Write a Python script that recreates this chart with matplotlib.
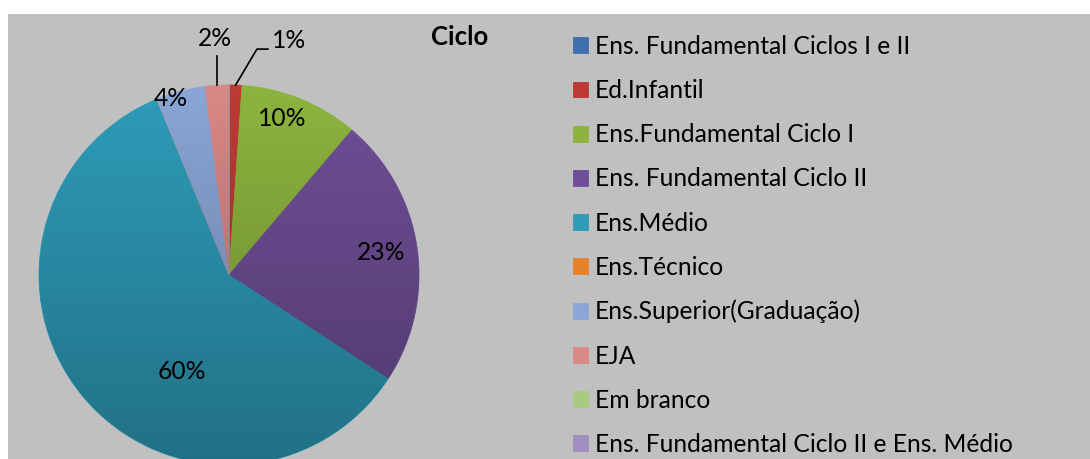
import numpy as np
import matplotlib.pyplot as plt
from matplotlib.patches import Circle, Rectangle

plt.rcParams['font.family'] = ['Lato', 'DejaVu Sans']

# data (percent of answers per cycle)
categories = ['Ens. Fundamental Ciclos I e II', 'Ed.Infantil', 'Ens.Fundamental Ciclo I',
              'Ens. Fundamental Ciclo II', 'Ens.Médio', 'Ens.Técnico',
              'Ens.Superior(Graduação)', 'EJA', 'Em branco',
              'Ens. Fundamental Ciclo II e Ens. Médio']
values = [0, 1.1, 10.1, 23.0, 59.6, 0, 4.2, 2.0, 0, 0]
colors = ['#3f6fb0', '#be3a36', '#8db43e', '#6f4f97', '#2e9cb9', '#e8822a',
          '#8aa6d6', '#d98886', '#a8c980', '#a08fc0']
title = 'Ciclo'

W, H = 1090, 459
fig = plt.figure(figsize=(W / 100, H / 100), dpi=100)
fig.patch.set_facecolor('white')
fig.patches.append(Rectangle((8 / W, 0), 1 - 8 / W, 445 / H, transform=fig.transFigure,
                             facecolor='#c0c0c0', edgecolor='none', zorder=-10))

# pie axes placed in pixels: centre (229, 275), radius 190
cx, cy, r = 229, 275, 190
ax = fig.add_axes([(cx - r) / W, (H - cy - r) / H, 2 * r / W, 2 * r / H])

wedges, _ = ax.pie(values, colors=colors, startangle=90, counterclock=False,
                   radius=1, wedgeprops=dict(linewidth=0.6, edgecolor='none'))
for w, c in zip(wedges, colors):
    w.set_edgecolor(c)

# darkening gradient toward the bottom, clipped to the disc
grad = np.linspace(0, 1, 256).reshape(-1, 1)
shade = np.zeros((256, 1, 4))
shade[..., 3] = 0.28 * grad
im = ax.imshow(shade, extent=(-1, 1, -1, 1), origin='upper', aspect='auto', zorder=3)
im.set_clip_path(Circle((0, 0), 1, transform=ax.transData))
ax.set_xlim(-1, 1)
ax.set_ylim(-1, 1)
ax.axis('off')

# percentage labels
total = sum(values)
cum = np.cumsum([0] + values)
# (radial distance, angular shift in degrees) per labelled slice
label_place = {2: (0.872, -3.5), 3: (0.808, 0), 4: (0.567, -24.6), 6: (0.975, -3.4)}
fs = 17.7
for i, v in enumerate(values):
    if i not in label_place:
        continue
    d, shift = label_place[i]
    mid = 360 * (cum[i] + v / 2) / total + shift
    x, y = d * np.sin(np.radians(mid)), d * np.cos(np.radians(mid))
    ax.text(x, y, f'{v / total * 100:.0f}%', ha='center', va='center', fontsize=fs,
            color='black', zorder=5)

# small slices labelled outside with leader lines
def edge_point(i):
    mid = 360 * (cum[i] + values[i] / 2) / total
    return np.sin(np.radians(mid)), np.cos(np.radians(mid))

ex, ey = edge_point(7)
ax.plot([ex, ex], [ey, 1.153], color='black', lw=1.2, clip_on=False, zorder=5)
ax.text(ex - 0.012, 1.247, f'{values[7] / total * 100:.0f}%', ha='center', va='center',
        fontsize=fs, clip_on=False)

ex, ey = edge_point(1)
ax.plot([ex, 0.147, 0.205], [ey, 1.189, 1.189], color='black', lw=1.2, clip_on=False, zorder=5)
ax.text(0.225, 1.232, f'{values[1] / total * 100:.0f}%', ha='left', va='center',
        fontsize=fs, clip_on=False)

fig.text(460 / W, 1 - 37 / H, title, ha='center', va='center', fontsize=18.5,
         fontweight='bold')

fig.legend(wedges, categories, loc='upper left', bbox_to_anchor=(573 / W, 1 - 35 / H),
           frameon=False, fontsize=fs, borderpad=0, borderaxespad=0,
           handlelength=0.61, handleheight=0.61, handletextpad=0.28, labelspacing=0.86)

fig.savefig('out.png', dpi=100, facecolor='white')
